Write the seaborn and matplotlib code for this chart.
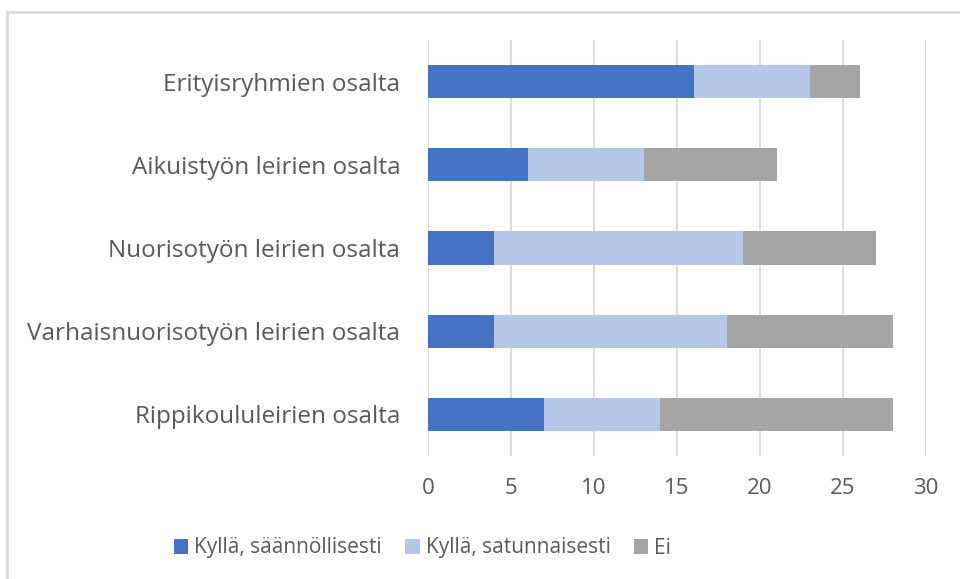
import numpy as np
import pandas as pd
import seaborn as sns
import matplotlib.pyplot as plt
from matplotlib.lines import Line2D
from matplotlib.patches import Patch

categories = ['Erityisryhmien osalta', 'Aikuistyön leirien osalta',
              'Nuorisotyön leirien osalta', 'Varhaisnuorisotyön leirien osalta',
              'Rippikoululeirien osalta']
saannollisesti = [16, 6, 4, 4, 7]
satunnaisesti = [7, 7, 15, 14, 7]
ei = [3, 8, 8, 10, 14]
series_names = ['Kyllä, säännöllisesti', 'Kyllä, satunnaisesti', 'Ei']
colors = ['#4472C4', '#B4C7E7', '#A5A5A5']

sns.set_style('white')
plt.rcParams['font.family'] = ['Open Sans', 'DejaVu Sans']

df = pd.DataFrame({'cat': categories, 's1': saannollisesti, 's2': satunnaisesti, 's3': ei})
df['c1'] = df['s1']
df['c2'] = df['s1'] + df['s2']
df['c3'] = df['c2'] + df['s3']

fig = plt.figure(figsize=(9.6, 5.79), dpi=100)
ax = fig.add_axes([428/960, 1 - 456/579, (926 - 428)/960, (456 - 40)/579])

# stacked: draw totals first, then overlay smaller cumulative sums
for col, c in zip(['c3', 'c2', 'c1'], colors[::-1]):
    sns.barplot(data=df, x=col, y='cat', order=categories, color=c,
                width=0.4, saturation=1, linewidth=0, ax=ax)

ax.set_xlim(0, 30)
ax.set_xticks(range(0, 31, 5))
ax.set_xlabel('')
ax.set_ylabel('')
ax.grid(axis='x', color='#D9D9D9', linewidth=1.3)
ax.set_axisbelow(True)
for s in ax.spines.values():
    s.set_visible(False)
ax.tick_params(axis='x', labelsize=16, colors='#595959', length=0, pad=16)
ax.tick_params(axis='y', labelsize=17.5, colors='#595959', length=0, pad=20)

handles = [Patch(facecolor=c, edgecolor='none') for c in colors]
fig.legend(handles, series_names, loc='center', bbox_to_anchor=(0.44, 1 - 548/579),
           ncol=3, frameon=False, fontsize=15, labelcolor='#595959',
           handlelength=0.7, handleheight=0.7, handletextpad=0.3, columnspacing=1.1)

# chart border (top and left edges visible)
fig.add_artist(Line2D([7/960, 1], [1 - 12/579, 1 - 12/579], color='#D9D9D9', lw=2))
fig.add_artist(Line2D([7/960, 7/960], [0, 1 - 12/579], color='#D9D9D9', lw=2))

fig.savefig('out.png', dpi=100)
